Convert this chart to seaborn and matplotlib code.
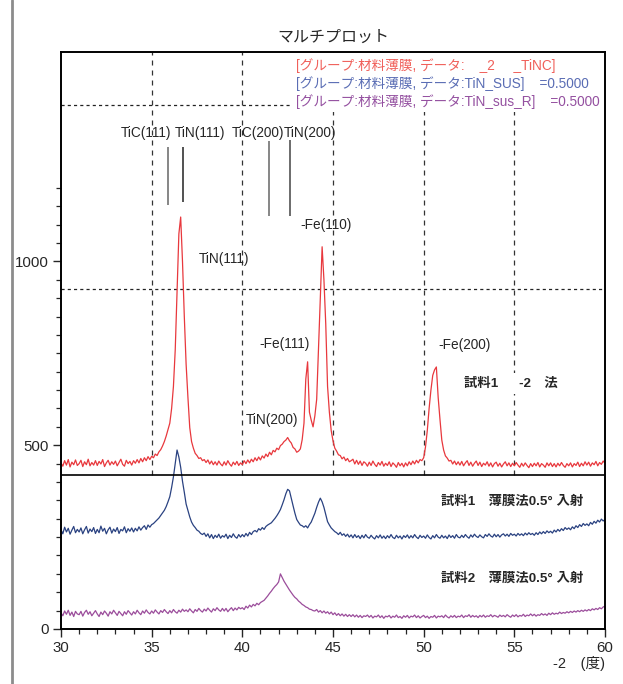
import numpy as np
import pandas as pd
import matplotlib.pyplot as plt
from matplotlib.lines import Line2D
from matplotlib.patches import Rectangle
import seaborn as sns

# 2θ scan grid (0.1 deg steps, 30 -> 60)
two_theta = np.round(np.arange(30.0, 60.05, 0.1), 1)

# 試料1 (offset trace)
red = [
    452, 443, 458, 446, 461, 441, 454, 447, 460, 445,
    450, 459, 442, 455, 447, 462, 444, 453, 446, 458,
    445, 456, 449, 461, 442, 452, 459, 446, 455, 448,
    457, 444, 453, 462, 448, 443, 459, 450, 456, 446,
    458, 451, 461, 452, 464, 455, 466, 458, 469, 461,
    470, 466, 476, 472, 482, 488, 498, 510, 525, 542,
    560, 600, 660, 760, 920, 1075, 1121, 1000, 850, 720,
    630, 548, 510, 492, 478, 472, 464, 466, 458, 461,
    453, 460, 449, 457, 447, 455, 446, 457, 449, 444,
    455, 446, 458, 449, 443, 454, 447, 456, 445, 452,
    447, 458, 450, 460, 452, 462, 455, 466, 458, 468,
    460, 471, 465, 476, 469, 481, 474, 486, 482, 492,
    488, 499, 503, 510, 514, 521, 512, 506, 494, 490,
    481, 484, 490, 515, 560, 680, 727, 590, 568, 550,
    580, 625, 760, 900, 1040, 950, 830, 660, 590, 540,
    512, 492, 484, 474, 472, 463, 468, 458, 464, 455,
    458, 462, 449, 459, 448, 457, 445, 455, 451, 443,
    454, 445, 457, 448, 442, 453, 446, 456, 443, 451,
    445, 455, 442, 452, 447, 440, 453, 444, 451, 441,
    452, 444, 455, 447, 457, 449, 459, 452, 461, 458,
    466, 495, 540, 600, 650, 690, 705, 713, 630, 570,
    514, 487, 471, 465, 457, 459, 449, 457, 447, 455,
    446, 456, 444, 452, 458, 445, 454, 443, 451, 457,
    445, 454, 442, 451, 446, 455, 443, 452, 441, 450,
    454, 443, 451, 441, 449, 455, 444, 452, 442, 451,
    444, 453, 446, 440, 451, 443, 452, 445, 439, 450,
    442, 451, 444, 453, 441, 450, 446, 440, 452, 444,
    452, 442, 450, 441, 451, 444, 453, 445, 440, 450,
    444, 452, 441, 450, 445, 454, 442, 451, 444, 455,
    446, 454, 443, 452, 447, 456, 444, 453, 448, 457,
    451,
]

# TiN_SUS
blue = [
    270, 259, 277, 264, 274, 258, 269, 279, 262, 271,
    264, 275, 259, 270, 279, 261, 272, 265, 276, 260,
    271, 262, 280, 266, 274, 259, 270, 277, 261, 272,
    265, 276, 260, 271, 267, 278, 262, 273, 266, 275,
    264, 274, 267, 278, 269, 276, 281, 271, 283, 277,
    284, 287, 292, 297, 302, 309, 316, 323, 333, 346,
    360, 385, 414, 450, 487, 468, 440, 402, 372, 340,
    322, 305, 291, 282, 276, 269, 266, 260, 257, 261,
    252, 259, 248, 257, 246, 255, 249, 258, 247, 254,
    250, 258, 246, 255, 249, 259, 251, 247, 257, 250,
    257, 251, 260, 253, 263, 257, 265, 268, 264, 273,
    269, 276, 271, 279, 283, 286, 289, 295, 301, 308,
    316, 325, 338, 352, 368, 380, 376, 355, 335, 315,
    298, 290, 283, 281, 277, 281, 275, 284, 291, 303,
    315, 331, 345, 356, 346, 331, 311, 292, 283, 275,
    270, 265, 262, 257, 263, 255, 259, 252, 258, 250,
    256, 248, 257, 249, 254, 246, 255, 248, 257, 250,
    247, 255, 249, 245, 254, 248, 256, 247, 253, 246,
    254, 248, 257, 249, 246, 255, 248, 253, 245, 254,
    249, 256, 247, 254, 248, 257, 250, 246, 255, 249,
    253, 247, 256, 249, 245, 254, 248, 257, 250, 247,
    255, 248, 253, 246, 256, 249, 254, 247, 257, 250,
    248, 255, 249, 257, 251, 247, 256, 250, 258, 252,
    249, 256, 251, 248, 257, 252, 259, 253, 250, 258,
    251, 257, 250, 256, 259, 253, 258, 252, 260, 255,
    258, 253, 260, 255, 259, 254, 261, 256, 262, 257,
    260, 255, 262, 257, 264, 259, 265, 260, 267, 262,
    266, 261, 269, 264, 271, 266, 273, 268, 276, 271,
    275, 270, 278, 273, 281, 276, 284, 279, 287, 282,
    286, 281, 290, 285, 293, 288, 296, 291, 299, 294,
    298,
]

# TiN_sus_R
purple = [
    44, 36, 49, 40, 51, 37, 46, 34, 48, 41,
    39, 48, 35, 45, 51, 40, 47, 36, 43, 50,
    41, 34, 46, 39, 49, 43, 35, 47, 41, 51,
    44, 37, 48, 42, 36, 47, 40, 50, 44, 38,
    47, 41, 51, 44, 39, 49, 43, 52, 45, 41,
    49, 43, 52, 46, 41, 50, 45, 53, 47, 42,
    50, 44, 53, 47, 43, 51, 46, 54, 48, 52,
    47, 55, 49, 44, 53, 48, 56, 50, 46, 54,
    49, 57, 51, 46, 55, 50, 58, 52, 48, 56,
    49, 56, 47, 53, 58, 50, 57, 52, 59, 55,
    58, 53, 62, 57, 65, 60, 67, 63, 70, 66,
    72, 75, 78, 84, 90, 97, 103, 110, 116, 121,
    128, 150, 140, 130, 122, 114, 106, 99, 92, 86,
    82, 76, 72, 67, 64, 60, 58, 54, 53, 50,
    49, 53, 46, 50, 44, 49, 43, 47, 41, 46,
    39, 44, 37, 42, 36, 41, 35, 40, 34, 39,
    34, 39, 33, 38, 32, 37, 31, 36, 34, 38,
    32, 37, 30, 35, 33, 38, 31, 36, 29, 35,
    33, 37, 30, 35, 32, 38, 31, 34, 29, 36,
    32, 37, 30, 35, 33, 38, 31, 36, 30, 34,
    37, 31, 35, 29, 34, 32, 37, 30, 35, 33,
    36, 31, 38, 33, 30, 36, 32, 37, 31, 35,
    33, 38, 31, 36, 34, 39, 32, 37, 33, 36,
    31, 37, 33, 38, 32, 36, 34, 39, 33, 37,
    35, 32, 38, 34, 37, 33, 39, 35, 32, 38,
    34, 39, 33, 37, 35, 40, 34, 38, 36, 41,
    36, 40, 35, 39, 37, 42, 38, 41, 37, 43,
    39, 44, 40, 43, 41, 46, 42, 45, 43, 47,
    44, 48, 45, 49, 46, 50, 47, 51, 48, 52,
    49, 53, 50, 55, 52, 56, 53, 58, 55, 60,
    62,
]

# reference pattern sticks (ICDD)
ref_names = ['TiC(111)', 'TiN(111)', 'TiC(200)', 'TiN(200)']
ref_pos = [35.92, 36.71, 41.47, 42.61]
ref_top = [1311, 1311, 1327, 1330]
ref_bottom = [1153, 1162, 1123, 1123]
ref_label_x = [34.69, 37.64, 40.87, 43.73]

legend_texts = [
    '[グループ:材料薄膜, データ:    _2     _TiNC]',
    '[グループ:材料薄膜, データ:TiN_SUS]    =0.5000',
    '[グループ:材料薄膜, データ:TiN_sus_R]    =0.5000',
]
line_colors = ['#e8383d', '#2a4281', '#9b4d9b']
legend_colors = ['#f0605a', '#5a6db4', '#9450a0']

peak_labels = ['TiN(111)', '-Fe(110)', '-Fe(111)', '-Fe(200)', 'TiN(200)']
peak_label_x = [38.97, 44.6, 42.34, 52.28, 41.64]
peak_label_y = [1006, 1099, 775, 773, 570]

df = pd.DataFrame({'2theta': two_theta, 'red': red, 'blue': blue, 'purple': purple})

sns.set_style('ticks')
plt.rcParams['font.family'] = ['Liberation Sans', 'Noto Sans CJK JP', 'DejaVu Sans']

fig = plt.figure(figsize=(6.23, 6.84), dpi=100)
ax = fig.add_axes([61 / 623, 55 / 684, 544 / 623, 577 / 684])

for col, c in zip(['red', 'blue', 'purple'], line_colors):
    sns.lineplot(data=df, x='2theta', y=col, color=c, lw=0.9, ax=ax, zorder=2)

ax.set_xlim(30, 60)
ax.set_ylim(0, 1570)

# grid in the upper panel
ax.vlines([35, 40, 45, 50, 55], 418, 1570, colors='#333333', lw=0.9,
          linestyles=(0, (4, 4)), zorder=1)
for yv in [925, 1425]:
    ax.axhline(yv, color='#222222', lw=0.9, ls=(0, (2.5, 2.5)), zorder=1)
ax.axhline(418, color='black', lw=1.2, zorder=3)

# reference sticks
ax.vlines(ref_pos, ref_bottom, ref_top, colors=['#666666', '#222222', '#666666', '#444444'],
          lw=1.1, zorder=2)
for name, xl in zip(ref_names, ref_label_x):
    ax.text(xl, 1349, name, ha='center', va='center', fontsize=9.8)

for name, xl, yl in zip(peak_labels, peak_label_x, peak_label_y):
    ax.text(xl, yl, name, ha='center', va='center', fontsize=9.8)

ax.text(52.23, 668, '試料1　  -2　法', ha='left', va='center', fontsize=9.6,
        fontweight='bold', bbox=dict(fc='white', ec='none', pad=3), zorder=4)
ax.text(50.96, 346, '試料1　薄膜法0.5° 入射', ha='left', va='center',
        fontsize=9.6, fontweight='bold')
ax.text(50.96, 136, '試料2　薄膜法0.5° 入射', ha='left', va='center',
        fontsize=9.6, fontweight='bold')

# legend block
ax.add_patch(Rectangle((42.63, 1406), 17.3, 160, fc='white', ec='none', zorder=3))
for txt, c, yl in zip(legend_texts, legend_colors, [1534, 1485, 1436]):
    ax.text(42.96, yl, txt, color=c, ha='left', va='center', fontsize=9.8, zorder=4)

ax.set_xticks([30, 35, 40, 45, 50, 55, 60])
ax.set_xticks(np.arange(31, 60, 1), minor=True)
ax.set_yticks([0, 500, 1000])
ax.set_yticks([v for v in range(50, 1250, 50) if v % 500], minor=True)
ax.tick_params(which='major', direction='out', length=6, width=1, labelsize=10.8, pad=3)
ax.tick_params(which='minor', direction='out', length=3.5, width=0.9)
ax.set_xlabel('')
ax.set_ylabel('')
for s in ax.spines.values():
    s.set_linewidth(1.4)
    s.set_color('black')

ax.set_title('マルチプロット', fontsize=11.5, pad=7)
ax.text(1.0, -0.059, '-2　(度)', transform=ax.transAxes, ha='right', va='center',
        fontsize=10.5)

fig.add_artist(Line2D([12 / 623, 12 / 623], [0, 1], color='#8c8c8c', lw=2))

fig.savefig('out.png', dpi=100)
